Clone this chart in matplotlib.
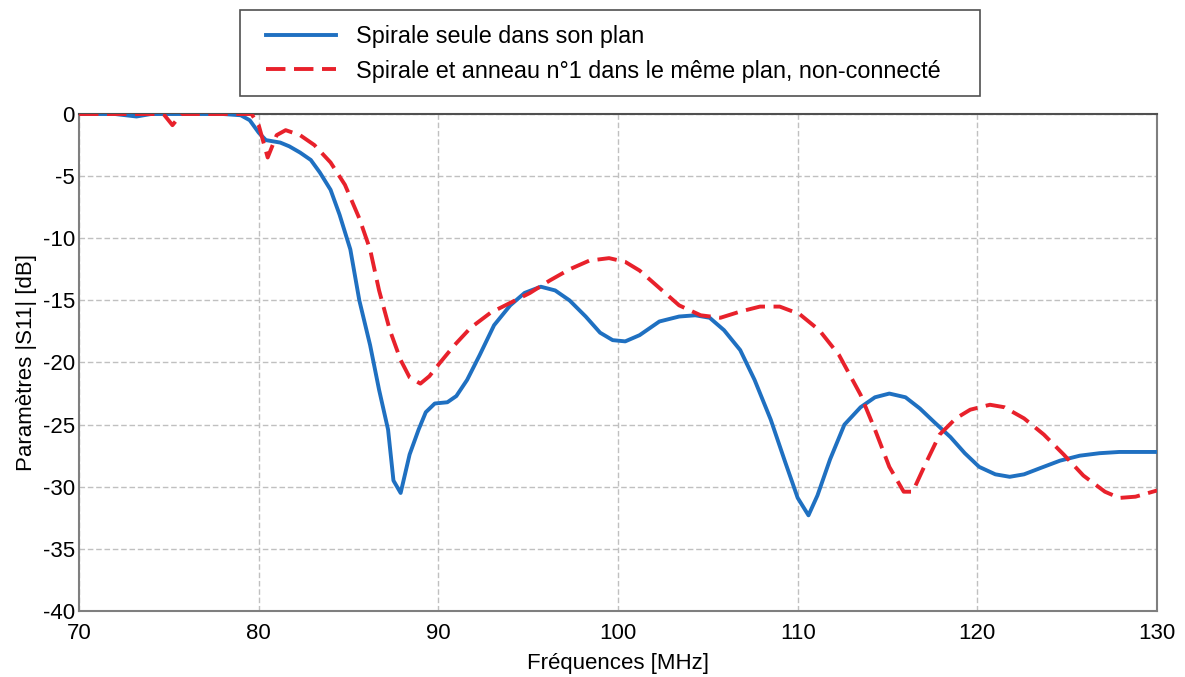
import numpy as np
import matplotlib
matplotlib.use("Agg")
import matplotlib.pyplot as plt
from matplotlib.patches import Rectangle

plt.rcParams["font.family"] = ["Liberation Sans", "DejaVu Sans"]
plt.rcParams["axes.unicode_minus"] = False

# ---------- data ----------
freq_spirale = [70, 72, 73.2, 74, 76, 78, 79, 79.5, 80, 80.4, 81.2, 81.7, 82.3,
                82.9, 83.4, 84.0, 84.5, 85.1, 85.6, 86.2, 86.7, 87.2, 87.5,
                87.9, 88.4, 88.9, 89.3, 89.8, 90.5, 91.0, 91.6, 92.3, 93.1,
                94.0, 94.8, 95.7, 96.5, 97.3, 98.2, 99.0, 99.7, 100.4, 101.2,
                102.3, 103.4, 104.3, 105.1, 105.9, 106.8, 107.6, 108.5, 109.3,
                110.0, 110.6, 111.1, 111.8, 112.6, 113.5, 114.3, 115.1, 116.0,
                116.8, 117.6, 118.5, 119.3, 120.1, 121.0, 121.8, 122.6, 123.5,
                124.6, 125.7, 126.8, 127.9, 130]
s11_spirale = [0, 0, -0.2, 0, 0, 0, -0.1, -0.5, -1.5, -2.1, -2.3, -2.6, -3.1,
               -3.7, -4.7, -6.1, -8.1, -10.9, -15.0, -18.6, -22.2, -25.4, -29.5,
               -30.5, -27.4, -25.4, -24.0, -23.3, -23.2, -22.7, -21.4, -19.4,
               -17.0, -15.4, -14.4, -13.9, -14.2, -15.0, -16.3, -17.6, -18.2,
               -18.3, -17.8, -16.7, -16.3, -16.2, -16.4, -17.4, -19.0, -21.4,
               -24.6, -28.0, -30.9, -32.3, -30.7, -27.8, -25.0, -23.6, -22.8,
               -22.5, -22.8, -23.7, -24.8, -26.0, -27.3, -28.4, -29.0, -29.2,
               -29.0, -28.5, -27.9, -27.5, -27.3, -27.2, -27.2]

freq_anneau = [70, 74.7, 75.2, 75.7, 78, 79.6, 80.0, 80.5, 81.0, 81.5, 82.3,
               83.1, 84.0, 84.8, 85.6, 86.2, 86.7, 87.3, 87.9, 88.4, 89.0,
               89.5, 90.1, 90.9, 91.8, 92.9, 94.0, 95.1, 96.2, 97.3, 98.4,
               99.5, 100.4, 101.2, 102.3, 103.4, 104.6, 105.7, 106.8, 107.9,
               109.0, 110.1, 111.2, 112.3, 113.5, 114.3, 115.1, 115.9, 116.4,
               117.1, 117.9, 118.8, 119.6, 120.7, 121.5, 122.6, 123.7, 124.8,
               125.9, 127.1, 127.9, 128.8, 130]
s11_anneau = [0, 0, -0.9, 0, 0, 0, -0.9, -3.5, -1.7, -1.3, -1.7, -2.5, -3.9,
              -5.7, -8.4, -10.9, -14.2, -17.4, -19.8, -21.2, -21.7, -21.1,
              -20.0, -18.6, -17.2, -16.0, -15.2, -14.4, -13.4, -12.5, -11.8,
              -11.6, -11.9, -12.6, -14.0, -15.4, -16.2, -16.4, -15.9, -15.5,
              -15.5, -16.1, -17.4, -19.4, -22.6, -25.4, -28.4, -30.4, -30.4,
              -28.2, -25.8, -24.5, -23.8, -23.4, -23.6, -24.5, -25.8, -27.4,
              -29.1, -30.4, -30.9, -30.8, -30.3]

label_spirale = "Spirale seule dans son plan"
label_anneau = "Spirale et anneau n°1 dans le même plan, non-connecté"

# ---------- plot ----------
W, H = 1185, 677
fig = plt.figure(figsize=(W / 100, H / 100), dpi=100)
ax = fig.add_axes([0.0667, 0.0975, 0.9097, 0.7341])

ax.plot(freq_spirale, s11_spirale, color="#1f70c1", linewidth=2.8,
        label=label_spirale, solid_joinstyle="round", zorder=3)
ax.plot(freq_anneau, s11_anneau, color="#e8212b", linewidth=2.8,
        dashes=(5, 2.2), label=label_anneau, zorder=4)

ax.set_xlim(70, 130)
ax.set_ylim(-40, 0)
ax.set_xticks(np.arange(70, 131, 10))
ax.set_yticks(np.arange(-40, 1, 5))
ax.tick_params(length=0, labelsize=16)
ax.tick_params(axis="x", pad=9)
ax.tick_params(axis="y", pad=3)
ax.grid(True, color="#c0c0c0", linestyle=(0, (4, 2)), linewidth=1.0)
ax.set_axisbelow(True)

for side in ["left", "right", "bottom"]:
    ax.spines[side].set_color("#7f7f7f")
    ax.spines[side].set_linewidth(1.5)
ax.spines["top"].set_color("#505050")
ax.spines["top"].set_linewidth(1.5)

ax.set_xlabel("Fréquences [MHz]", fontsize=16, labelpad=6)
ax.set_ylabel("Paramètres |S11| [dB]", fontsize=16, labelpad=4)

# legend box sits above the axes; frame drawn separately for its padding
fig.patches.append(Rectangle((240 / W, 1 - 96 / H), 740 / W, 86 / H,
                             transform=fig.transFigure, fill=False,
                             edgecolor="#505050", linewidth=1.2))
fig.legend(loc="upper left", bbox_to_anchor=(266 / W, 1 - 25 / H),
           fontsize=16.8, frameon=False, handlelength=3.0,
           handletextpad=0.85, borderpad=0, labelspacing=0.5,
           borderaxespad=0)

fig.savefig("out.png", dpi=100)
